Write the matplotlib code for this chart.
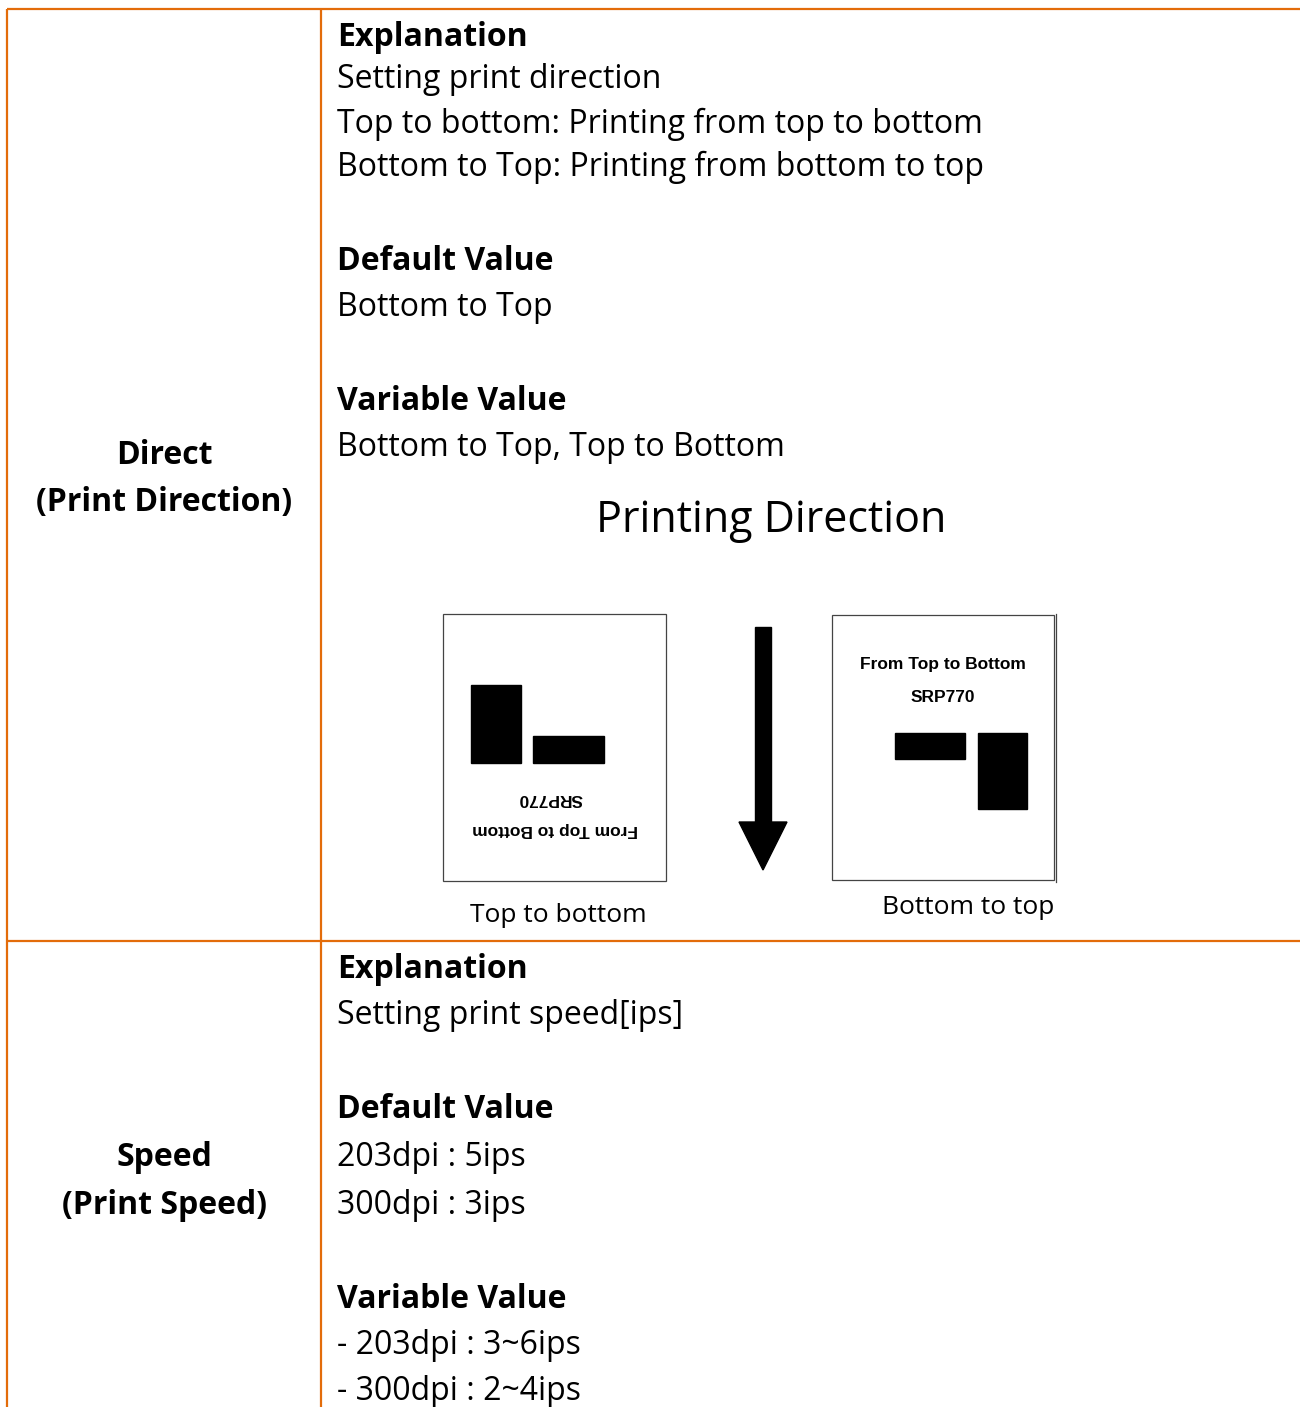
import matplotlib
matplotlib.use("Agg")
import matplotlib.pyplot as plt
from matplotlib.patches import Rectangle, Polygon

# ===== DATA =====
row_labels = [["Direct", "(Print Direction)"], ["Speed", "(Print Speed)"]]

row1_lines = [
    ("Explanation", True),
    ("Setting print direction", False),
    ("Top to bottom: Printing from top to bottom", False),
    ("Bottom to Top: Printing from bottom to top", False),
    ("Default Value", True),
    ("Bottom to Top", False),
    ("Variable Value", True),
    ("Bottom to Top, Top to Bottom", False),
]
row2_lines = [
    ("Explanation", True),
    ("Setting print speed[ips]", False),
    ("Default Value", True),
    ("203dpi : 5ips", False),
    ("300dpi : 3ips", False),
    ("Variable Value", True),
    ("- 203dpi : 3~6ips", False),
    ("- 300dpi : 2~4ips", False),
]
diagram_title = "Printing Direction"
label_texts = ["From Top to Bottom", "SRP770"]
captions = ["Top to bottom", "Bottom to top"]

# ===== LAYOUT (pixels) =====
W, H = 1300, 1407
ORANGE = "#E36C0A"
row1_y = [37, 80, 124, 167, 261, 307, 401, 447]
row2_y = [970, 1015, 1110, 1158, 1206, 1300, 1346, 1391]
label_y = [(455, 503), (1158, 1206)]
TEXT_X = 337
FS = 23

fig = plt.figure(figsize=(W / 100, H / 100), dpi=100)
ax = fig.add_axes([0, 0, 1, 1])
ax.set_xlim(0, W)
ax.set_ylim(H, 0)
ax.axis("off")

# table borders
ax.plot([7, W], [9, 9], color=ORANGE, lw=1.6, solid_capstyle="butt")
ax.plot([7, W], [941, 941], color=ORANGE, lw=1.6, solid_capstyle="butt")
ax.plot([7, 7], [9, H], color=ORANGE, lw=1.6, solid_capstyle="butt")
ax.plot([321, 321], [9, H], color=ORANGE, lw=1.6, solid_capstyle="butt")

font = ["Open Sans", "Noto Sans", "DejaVu Sans"]

# left column labels
for (a, b), (ya, yb) in zip(row_labels, label_y):
    ax.text(164, ya, a, ha="center", va="center", fontsize=FS,
            fontweight="bold", family=font)
    ax.text(164, yb, b, ha="center", va="center", fontsize=FS,
            fontweight="bold", family=font)

# right column text
for lines, ys in [(row1_lines, row1_y), (row2_lines, row2_y)]:
    for (txt, bold), y in zip(lines, ys):
        ax.text(TEXT_X, y, txt, ha="left", va="center", fontsize=FS,
                fontweight="bold" if bold else "normal", family=font)

ax.text(771, 521, diagram_title, ha="center", va="center", fontsize=31,
        family=font)

# left sample label (printed upside down)
ax.add_patch(Rectangle((443, 614), 223, 267, fill=False, ec="#444444", lw=0.9))
ax.add_patch(Rectangle((471, 685), 50, 78, color="black"))
ax.add_patch(Rectangle((533, 736), 71, 27, color="black"))
ax.text(555, 830, label_texts[0], ha="center", va="center", fontsize=12.5,
        fontweight="bold", family="Liberation Sans", rotation=180)
ax.text(550, 799, label_texts[1], ha="center", va="center", fontsize=12.5,
        fontweight="bold", family="Liberation Sans", rotation=180)

# right sample label
ax.add_patch(Rectangle((832, 615), 222, 265, fill=False, ec="#444444", lw=0.9))
ax.plot([1056, 1056], [614, 882], color="#444444", lw=0.9)
ax.add_patch(Rectangle((895, 733), 70, 26, color="black"))
ax.add_patch(Rectangle((978, 733), 49, 76, color="black"))
ax.text(943, 664, label_texts[0], ha="center", va="center", fontsize=12.5,
        fontweight="bold", family="Liberation Sans")
ax.text(943, 698, label_texts[1], ha="center", va="center", fontsize=12.5,
        fontweight="bold", family="Liberation Sans")

# arrow
ax.add_patch(Rectangle((755, 627), 16, 196, color="black"))
ax.add_patch(Polygon([(739, 822), (787, 822), (763, 870)], closed=True,
                     color="black"))

ax.text(558, 915, captions[0], ha="center", va="center", fontsize=19, family=font)
ax.text(968, 907, captions[1], ha="center", va="center", fontsize=19, family=font)

fig.savefig("out.png", dpi=100)
